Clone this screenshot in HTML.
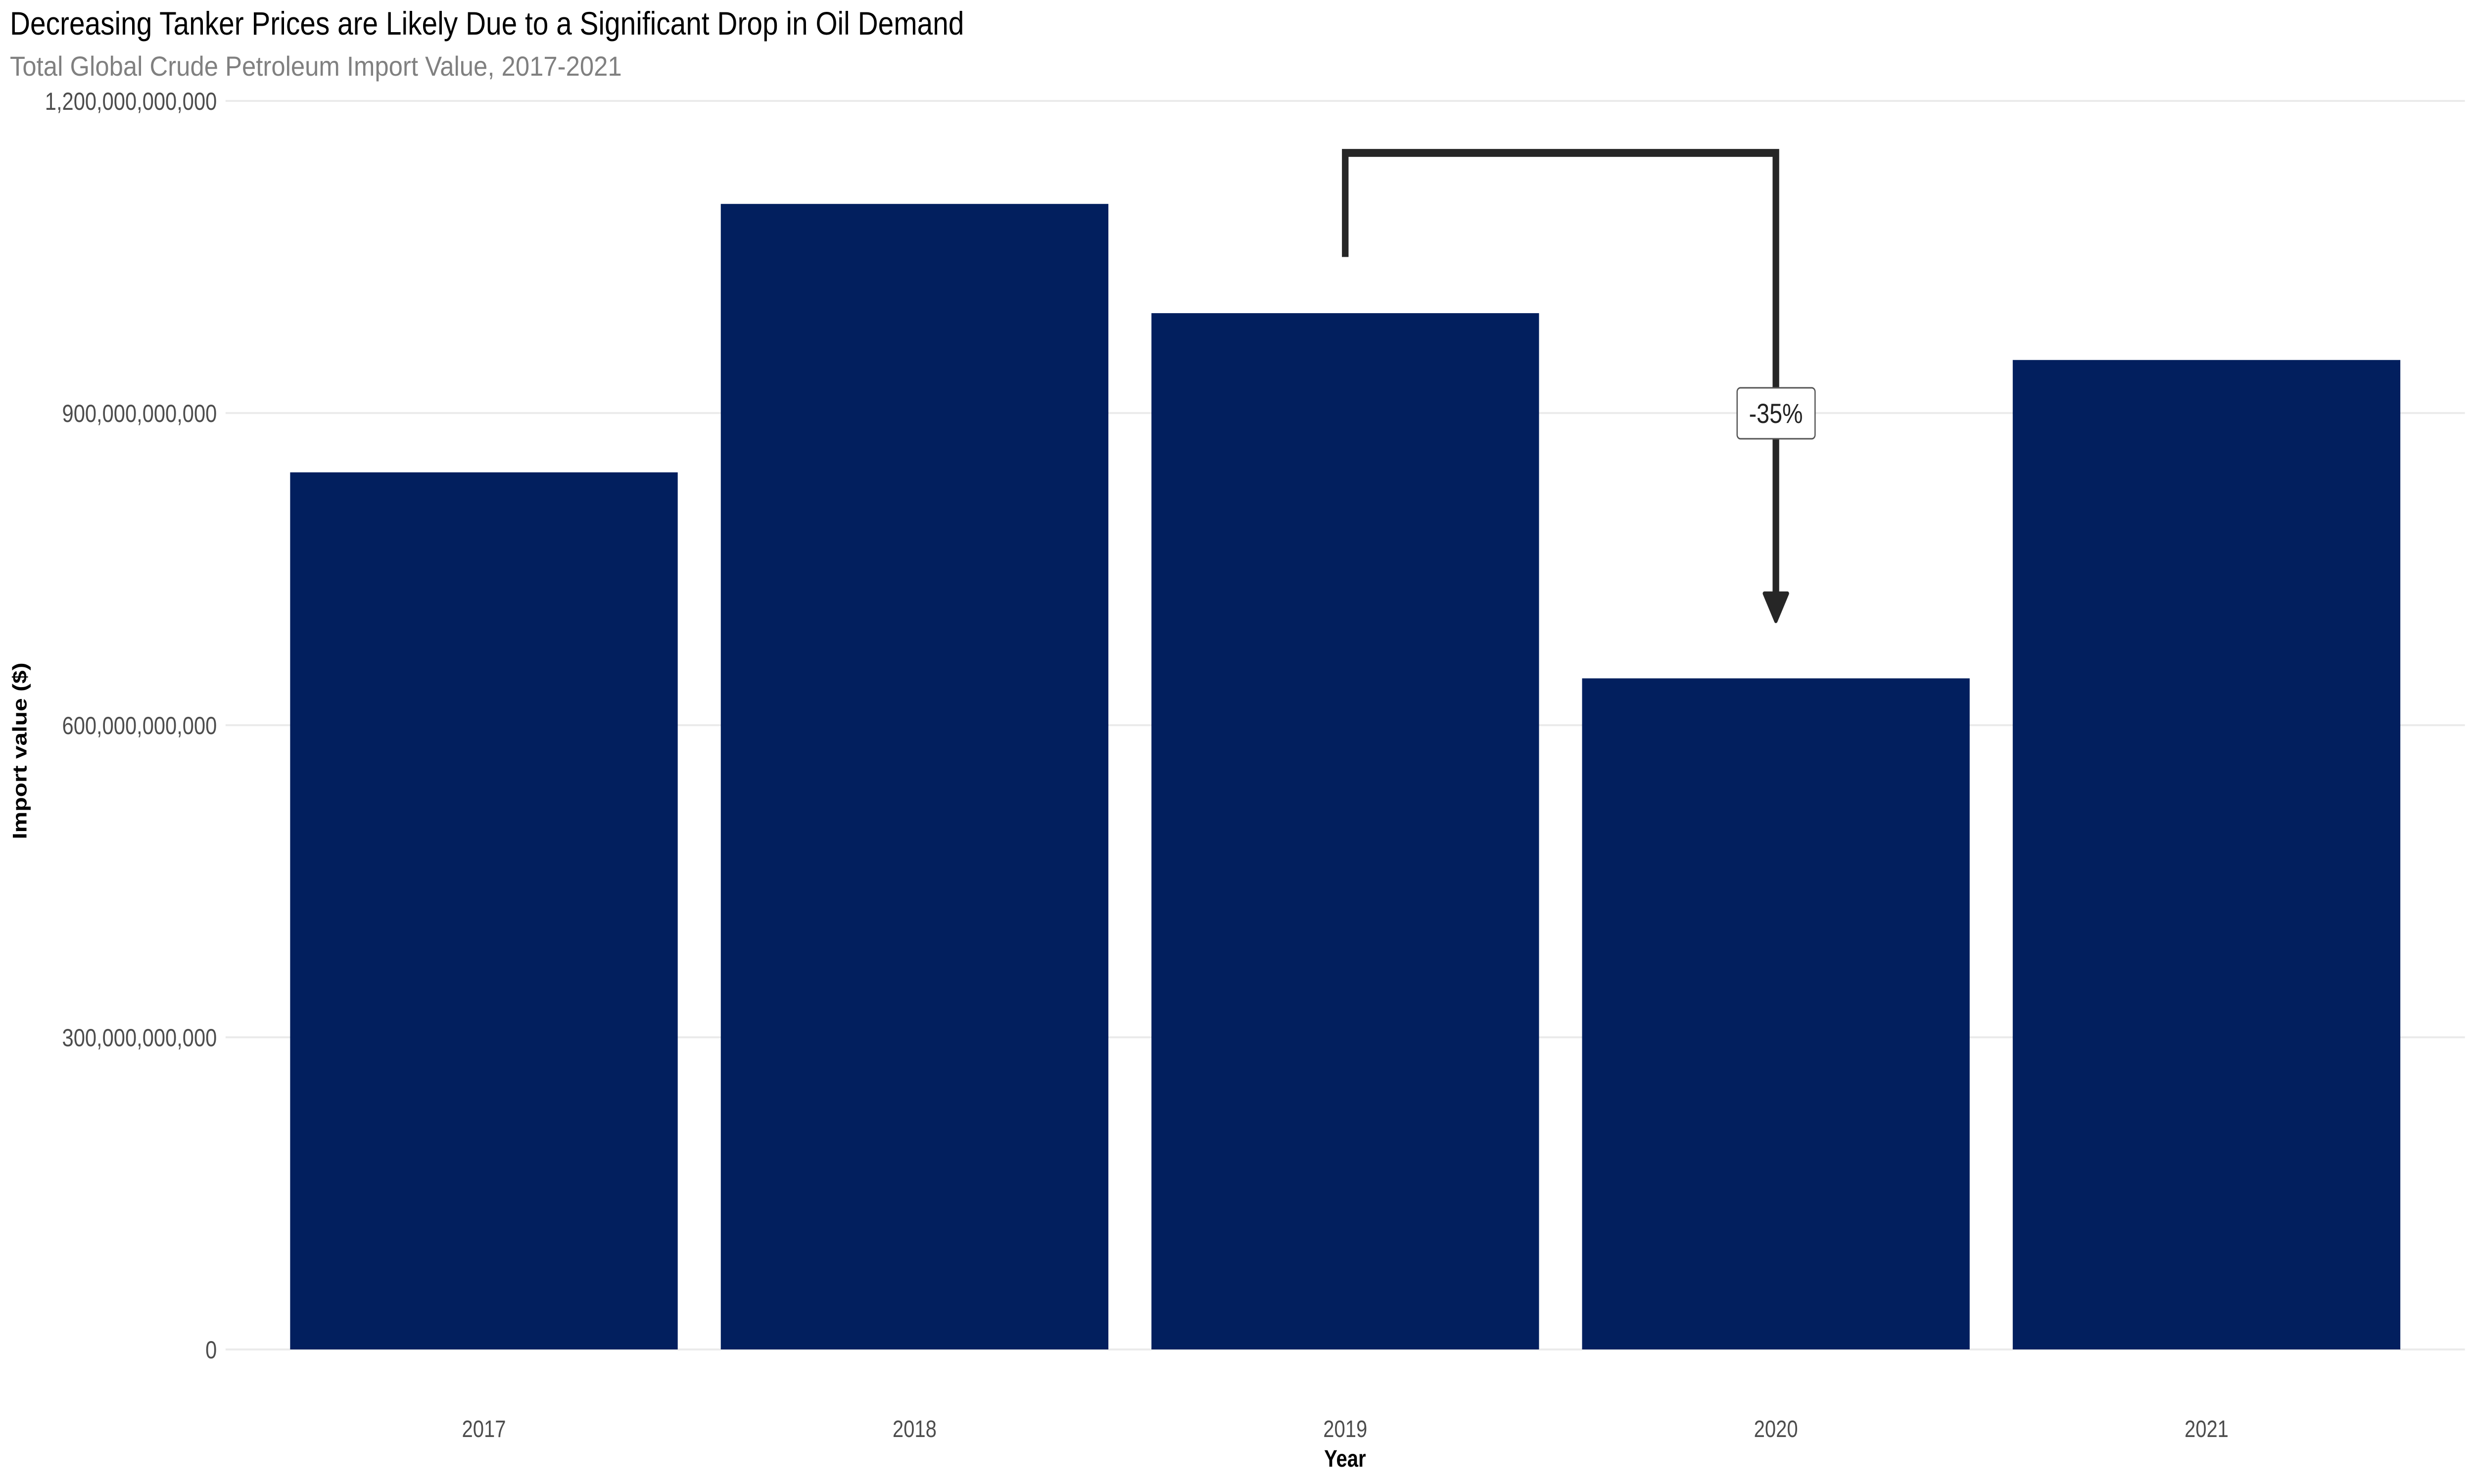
<!DOCTYPE html>
<html><head><meta charset="utf-8"><style>
html,body{margin:0;padding:0;background:#fff;width:100%;height:100%;overflow:hidden}
svg{display:block;font-family:"Liberation Sans",Arial,sans-serif;width:100vw;height:100vh}
</style></head><body>
<svg id="chart" viewBox="0 0 6000 3000" preserveAspectRatio="none">
<text x="24" y="70" font-size="66" fill="#000" textLength="2314" lengthAdjust="spacingAndGlyphs">Decreasing Tanker Prices are Likely Due to a Significant Drop in Oil Demand</text>
<text x="24" y="153" font-size="56" fill="#808080" textLength="1484" lengthAdjust="spacingAndGlyphs">Total Global Crude Petroleum Import Value, 2017-2021</text>
<g id="grid"></g><g id="bars"></g><g id="yticks"></g><g id="xticks"></g><g id="annot"></g>
<text x="0" y="0" transform="translate(64,1518) rotate(-90)" text-anchor="middle" font-size="48" font-weight="bold" fill="#000">Import value ($)</text>
<text x="3262" y="2965" text-anchor="middle" font-size="48" font-weight="bold" fill="#000">Year</text>
</svg>
<script>
const categories = ["2017","2018","2019","2020","2021"];
const values = [843e9, 1101e9, 996e9, 645e9, 951e9];
const yTicks = [0, 300e9, 600e9, 900e9, 1200e9];
const yTickLabels = ["0","300,000,000,000","600,000,000,000","900,000,000,000","1,200,000,000,000"];
const annotIdx = [2, 3];
const annotLevels = [1050e9, 1150e9, 700e9]; // start, bracket top, arrow tip
const annotLabelValue = 900e9;
const annotLabel = "-35%";

const NS = "http://www.w3.org/2000/svg";
const plotL = 547, plotR = 5978, y0px = 2728, pxPer300B = 631;
const step = (plotR - plotL) / (categories.length - 1 + 1.2);
function xScale(i){ return plotL + step * (0.6 + i); }
function yScale(v){ return y0px - v / 300e9 * pxPer300B; }
function mk(tag, attrs, parent){ const e = document.createElementNS(NS, tag); for (const k in attrs) e.setAttribute(k, attrs[k]); parent.appendChild(e); return e; }

const grid = document.getElementById('grid');
const yt = document.getElementById('yticks');
yTicks.forEach((t, i) => {
  const l = mk('line', {x1: plotL, x2: plotR, y1: yScale(t), y2: yScale(t), stroke: '#ebebeb', 'stroke-width': 4}, grid);
  
  
  const tx = mk('text', {x: 526, y: yScale(t) + 18, 'text-anchor': 'end', 'font-size': 50, fill: '#4d4d4d'}, yt);
  tx.textContent = yTickLabels[i];
  
  
});

const bars = document.getElementById('bars');
const xt = document.getElementById('xticks');
const bw = step * 0.9;
categories.forEach((c, i) => {
  const r = mk('rect', {x: xScale(i) - bw/2, y: yScale(values[i]), width: bw, height: y0px - yScale(values[i]), fill: '#021f5e'}, bars);
  
  
  const tx = mk('text', {x: xScale(i), y: 2905, 'text-anchor': 'middle', 'font-size': 48, fill: '#4d4d4d'}, xt);
  tx.textContent = c;
  
  
});

const an = document.getElementById('annot');
const xa = xScale(annotIdx[0]), xb = xScale(annotIdx[1]);
const startY = yScale(annotLevels[0]);
const topY = yScale(annotLevels[1]);
const endY = yScale(annotLevels[2]);
const p = mk('path', {d: `M${xa},${startY} L${xa},${topY} L${xb},${topY} L${xb},${endY - 50}`, fill: 'none', stroke: '#262626', 'stroke-width': 16}, an);


const ah = mk('path', {d: `M${xb-28},${endY-56} L${xb+28},${endY-56} L${xb},${endY} Z`, fill: '#262626', stroke: '#262626', 'stroke-width': 8, 'stroke-linejoin': 'round'}, an);


const midY = yScale(annotLabelValue);
const box = mk('rect', {x: xb - 94, y: midY - 51, width: 189, height: 103, rx: 8, fill: '#fff', stroke: '#555', 'stroke-width': 3}, an);


const lt = mk('text', {x: xb, y: midY + 20, 'text-anchor': 'middle', 'font-size': 56, fill: '#222'}, an);
lt.textContent = annotLabel;


</script>
</body></html>
